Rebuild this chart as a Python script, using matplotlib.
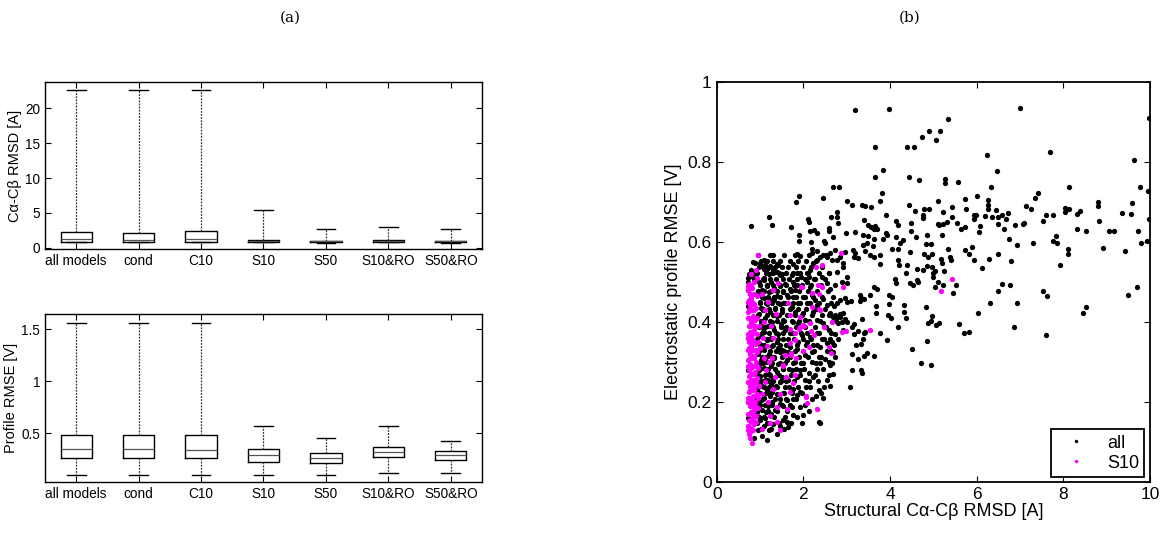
import numpy as np
import matplotlib
matplotlib.use("Agg")
import matplotlib.pyplot as plt
from matplotlib.lines import Line2D

plt.rcParams['font.family'] = ['Liberation Sans', 'DejaVu Sans']

# ---- box plot data (panel a) ----
groups = ['all models', 'cond', 'C10', 'S10', 'S50', 'S10&RO', 'S50&RO']

# Ca-Cb RMSD [A]: whisker low, q1, median, q3, whisker high
rmsd_whislo = [0.75, 0.75, 0.75, 0.75, 0.72, 0.75, 0.72]
rmsd_q1 = [0.85, 0.85, 0.85, 0.85, 0.80, 0.85, 0.80]
rmsd_med = [1.20, 1.15, 1.20, 1.00, 0.90, 1.00, 0.90]
rmsd_q3 = [2.20, 2.15, 2.40, 1.15, 1.00, 1.15, 1.00]
rmsd_whishi = [22.7, 22.7, 22.7, 5.45, 2.65, 3.00, 2.65]

# profile RMSE [V]
rmse_whislo = [0.10, 0.10, 0.10, 0.10, 0.10, 0.115, 0.115]
rmse_q1 = [0.26, 0.26, 0.26, 0.224, 0.208, 0.266, 0.24]
rmse_med = [0.346, 0.346, 0.335, 0.285, 0.26, 0.32, 0.29]
rmse_q3 = [0.48, 0.478, 0.482, 0.346, 0.311, 0.369, 0.327]
rmse_whishi = [1.56, 1.56, 1.56, 0.567, 0.452, 0.567, 0.42]

# ---- scatter data (panel b) ----
# all models, x > 3 A
all_far = [
    (3.18, 0.929), (3.98, 0.931), (5.33, 0.907), (4.90, 0.877), (5.16, 0.877), (4.73, 0.861),
    (5.05, 0.854), (4.39, 0.838), (4.56, 0.838), (3.66, 0.836), (6.23, 0.816), (3.83, 0.779),
    (6.47, 0.777), (3.65, 0.762), (4.43, 0.762), (4.67, 0.755), (5.27, 0.757), (5.27, 0.747),
    (5.56, 0.750), (6.34, 0.737), (3.82, 0.723), (3.12, 0.691), (3.36, 0.692), (3.42, 0.690),
    (3.56, 0.687), (3.76, 0.701), (4.43, 0.691), (4.57, 0.676), (4.78, 0.682), (4.90, 0.682),
    (4.76, 0.666), (4.77, 0.659), (5.11, 0.703), (5.23, 0.675), (5.44, 0.687), (5.74, 0.708),
    (5.76, 0.681), (6.01, 0.714), (6.25, 0.705), (6.26, 0.691), (6.26, 0.681), (5.94, 0.667),
    (5.99, 0.667), (6.20, 0.664), (6.36, 0.662), (6.49, 0.662), (6.45, 0.679), (6.49, 0.644),
    (3.90, 0.667), (3.40, 0.654), (3.50, 0.642), (3.56, 0.637), (3.66, 0.639), (3.70, 0.632),
    (3.62, 0.632), (3.20, 0.625), (3.38, 0.616), (3.48, 0.614), (3.62, 0.607), (3.37, 0.592),
    (3.46, 0.596), (3.60, 0.589), (3.14, 0.579), (3.19, 0.571), (3.16, 0.561), (3.27, 0.560),
    (3.43, 0.576), (3.54, 0.567), (3.63, 0.562), (3.76, 0.567), (3.77, 0.545), (3.83, 0.607),
    (3.91, 0.621), (3.93, 0.617), (4.04, 0.582), (4.13, 0.611), (4.23, 0.596), (4.29, 0.604),
    (4.18, 0.581), (4.18, 0.554), (4.21, 0.541), (4.40, 0.543), (4.37, 0.522), (4.14, 0.651),
    (4.18, 0.641), (4.49, 0.648), (4.49, 0.626), (4.60, 0.613), (4.45, 0.574), (4.86, 0.617),
    (4.84, 0.595), (4.94, 0.594), (4.78, 0.570), (4.96, 0.570), (4.88, 0.561), (4.85, 0.539),
    (4.96, 0.537), (4.62, 0.531), (4.76, 0.529), (4.99, 0.522), (5.03, 0.527), (5.24, 0.527),
    (5.17, 0.556), (5.19, 0.547), (5.39, 0.562), (5.40, 0.554), (5.34, 0.583), (5.20, 0.617),
    (5.10, 0.644), (5.14, 0.643), (5.22, 0.644), (5.31, 0.650), (5.42, 0.661), (5.54, 0.646),
    (5.63, 0.632), (5.72, 0.637), (5.93, 0.656), (6.07, 0.639), (6.05, 0.624), (5.74, 0.579),
    (5.83, 0.569), (5.88, 0.586), (5.93, 0.554), (6.13, 0.535), (6.29, 0.558), (6.50, 0.569),
    (4.11, 0.507), (4.62, 0.504), (4.98, 0.511),
    (4.13, 0.497), (4.46, 0.497), (4.52, 0.491), (4.64, 0.500), (5.10, 0.500), (5.22, 0.493),
    (5.03, 0.486), (5.53, 0.491), (5.45, 0.472), (6.48, 0.476), (6.30, 0.446), (6.04, 0.422),
    (5.59, 0.395), (5.70, 0.373), (5.83, 0.374), (3.63, 0.487), (3.71, 0.481), (3.30, 0.466),
    (3.33, 0.460), (3.40, 0.456), (3.31, 0.451), (3.54, 0.466), (3.10, 0.452), (3.98, 0.466),
    (4.05, 0.462), (3.97, 0.444), (3.68, 0.439), (3.68, 0.422), (4.33, 0.443), (4.33, 0.424),
    (4.37, 0.409), (3.96, 0.416), (4.03, 0.410), (4.18, 0.387), (4.82, 0.436), (4.97, 0.414),
    (4.95, 0.402), (4.87, 0.398), (5.05, 0.391), (5.12, 0.396), (3.35, 0.407), (3.16, 0.395),
    (3.12, 0.387), (3.26, 0.377), (3.40, 0.373), (3.43, 0.375), (3.76, 0.373), (3.17, 0.369),
    (3.93, 0.354), (3.37, 0.356), (3.33, 0.345), (3.22, 0.343), (4.85, 0.351), (4.51, 0.331),
    (4.71, 0.297), (4.95, 0.292), (3.46, 0.322), (3.40, 0.315), (3.64, 0.315), (3.13, 0.319),
    (3.25, 0.307), (3.12, 0.280), (3.34, 0.279), (3.35, 0.271), (3.08, 0.237),
    # x > 6.5
    (7.01, 0.935), (7.69, 0.824), (9.62, 0.804), (9.97, 0.910), (8.12, 0.737), (9.77, 0.737),
    (9.95, 0.727), (7.42, 0.722), (7.34, 0.709), (7.14, 0.689), (7.25, 0.682), (6.72, 0.673),
    (6.58, 0.667), (6.68, 0.656), (6.63, 0.631), (6.89, 0.643), (7.06, 0.644), (7.10, 0.647),
    (6.74, 0.607), (6.92, 0.593), (6.79, 0.552), (7.31, 0.596), (7.52, 0.651), (7.59, 0.668),
    (7.75, 0.666), (8.03, 0.684), (8.03, 0.674), (8.12, 0.681), (8.32, 0.669), (8.39, 0.677),
    (8.32, 0.632), (8.52, 0.626), (8.79, 0.699), (8.79, 0.689), (8.83, 0.651), (8.92, 0.584),
    (9.05, 0.628), (9.17, 0.628), (9.36, 0.672), (9.56, 0.670), (9.59, 0.697), (9.43, 0.576),
    (9.73, 0.628), (9.80, 0.597), (9.93, 0.603), (9.97, 0.658), (7.83, 0.615), (7.77, 0.602),
    (7.85, 0.597), (8.11, 0.581), (8.11, 0.570), (7.93, 0.543),
    (6.58, 0.494), (6.76, 0.491), (6.94, 0.446), (6.85, 0.387), (7.52, 0.477), (7.62, 0.464),
    (7.59, 0.368), (8.46, 0.422), (8.52, 0.437), (9.49, 0.468), (9.70, 0.486),
]

# all models, 1.5 < x < 3 A
all_mid = [
    (1.58, 0.494), (1.75, 0.500), (1.69, 0.483), (1.54, 0.475), (1.81, 0.479), (1.85, 0.491),
    (2.08, 0.500), (2.15, 0.487), (2.54, 0.496), (2.62, 0.483), (2.73, 0.491), (2.88, 0.500),
    (3.00, 0.497), (1.62, 0.466), (1.77, 0.462), (2.04, 0.462), (2.19, 0.466), (2.27, 0.454),
    (2.46, 0.458), (2.69, 0.462), (2.85, 0.454), (1.54, 0.446), (1.73, 0.437), (1.88, 0.446),
    (2.08, 0.446), (2.31, 0.442), (2.54, 0.442), (2.77, 0.446), (1.50, 0.425), (1.81, 0.425),
    (2.00, 0.421), (2.23, 0.425), (2.42, 0.416), (2.62, 0.421), (2.73, 0.416), (2.92, 0.421),
    (3.00, 0.400), (1.54, 0.404), (1.77, 0.400), (1.88, 0.396), (2.04, 0.404), (2.31, 0.404),
    (2.46, 0.396), (2.81, 0.396), (2.69, 0.412), (2.77, 0.412), (2.85, 0.412), (2.88, 0.400),
    (2.96, 0.408), (1.58, 0.379), (1.77, 0.371), (1.96, 0.366), (2.15, 0.362), (2.31, 0.371),
    (2.42, 0.358), (2.62, 0.358), (2.81, 0.358), (1.54, 0.358), (1.69, 0.337), (1.88, 0.350),
    (2.08, 0.350), (2.23, 0.341), (2.38, 0.337), (2.54, 0.346), (1.50, 0.329), (1.65, 0.325),
    (1.85, 0.333), (2.04, 0.316), (2.19, 0.325), (2.35, 0.312), (2.50, 0.308), (2.69, 0.325),
    (2.73, 0.312), (1.62, 0.304), (1.81, 0.300), (2.00, 0.296), (2.19, 0.300), (2.38, 0.296),
    (2.62, 0.291), (1.54, 0.283), (1.73, 0.279), (1.92, 0.279), (2.12, 0.271), (2.31, 0.283),
    (2.54, 0.254), (1.50, 0.262), (1.65, 0.254), (1.85, 0.262), (2.04, 0.254), (2.23, 0.262),
    (1.58, 0.237), (1.77, 0.233), (1.92, 0.225), (2.15, 0.237), (2.35, 0.229), (1.52, 0.221),
    (1.85, 0.217), (1.62, 0.204), (1.77, 0.206), (1.54, 0.189), (1.73, 0.187), (1.92, 0.187),
    (2.00, 0.166), (1.77, 0.166), (1.54, 0.154), (1.62, 0.150), (1.65, 0.137), (1.96, 0.146),
    (2.38, 0.146), (2.28, 0.214), (2.58, 0.379), (2.62, 0.330), (2.58, 0.300), (2.69, 0.270),
    (2.65, 0.350), (2.62, 0.240), (2.45, 0.210), (2.35, 0.150), (2.92, 0.380), (2.85, 0.420),
    (2.70, 0.440), (2.73, 0.370), (2.95, 0.460), (3.00, 0.450),
    # above 0.5 V
    (0.78, 0.639), (1.20, 0.661), (1.28, 0.643), (1.71, 0.637), (1.83, 0.700), (1.90, 0.714),
    (2.68, 0.737), (2.82, 0.737), (2.46, 0.709), (3.01, 0.701), (2.10, 0.656), (2.12, 0.650),
    (2.15, 0.627), (2.25, 0.629), (2.32, 0.622), (2.63, 0.661), (2.77, 0.674), (2.78, 0.661),
    (2.81, 0.647), (2.60, 0.635), (2.58, 0.627), (2.69, 0.612), (2.48, 0.601), (2.50, 0.596),
    (1.91, 0.616), (1.91, 0.601), (2.18, 0.599), (2.98, 0.621), (2.20, 0.581), (2.19, 0.571),
    (2.31, 0.576), (1.86, 0.569), (1.93, 0.564), (1.75, 0.544), (1.31, 0.567), (1.09, 0.554),
    (1.00, 0.546), (0.88, 0.546), (1.12, 0.541), (1.23, 0.540), (1.42, 0.541), (1.17, 0.533),
    (1.08, 0.531), (1.31, 0.521), (1.46, 0.517), (1.38, 0.525), (0.86, 0.519), (0.80, 0.514),
    (0.85, 0.507), (1.73, 0.517), (1.85, 0.521), (1.95, 0.512), (2.08, 0.521), (2.15, 0.529),
    (2.23, 0.547), (2.31, 0.554), (2.38, 0.562), (2.46, 0.567), (2.54, 0.562), (2.62, 0.571),
    (2.67, 0.554), (2.73, 0.579), (2.77, 0.554), (2.85, 0.562), (2.91, 0.547), (2.96, 0.575),
    (2.12, 0.511), (2.27, 0.508), (2.42, 0.512), (2.58, 0.521), (2.77, 0.525), (2.92, 0.537),
    (3.00, 0.512),
]

# all models, dense part x < 1.5 A
all_near = [
    (0.85, 0.110), (1.15, 0.105), (1.05, 0.115), (0.95, 0.130), (1.08, 0.140), (1.20, 0.130),
    (1.30, 0.145), (0.90, 0.150), (1.38, 0.120), (1.47, 0.140), (1.00, 0.155), (1.12, 0.160),
    (1.25, 0.170), (0.93, 0.175), (1.05, 0.180), (1.35, 0.180), (1.18, 0.190), (1.45, 0.195),
    (0.98, 0.195), (1.28, 0.200), (1.02, 0.205), (1.10, 0.210), (1.22, 0.215), (1.40, 0.220),
    (0.96, 0.225), (1.15, 0.230), (1.32, 0.235), (1.05, 0.240), (1.25, 0.245), (1.45, 0.250),
    (0.94, 0.250), (1.12, 0.255), (1.30, 0.260), (1.00, 0.265), (1.20, 0.270), (1.38, 0.275),
    (0.97, 0.280), (1.08, 0.285), (1.26, 0.290), (1.42, 0.295), (1.15, 0.300), (1.02, 0.305),
    (1.33, 0.310), (0.96, 0.320), (1.20, 0.320), (1.45, 0.325), (1.10, 0.330), (1.28, 0.340),
    (1.00, 0.345), (1.38, 0.350), (1.15, 0.355), (1.25, 0.360), (0.98, 0.365), (1.42, 0.370),
    (1.08, 0.375), (1.33, 0.380), (1.18, 0.390), (1.02, 0.395), (1.48, 0.395), (1.28, 0.400),
    (1.12, 0.410), (1.40, 0.415), (0.97, 0.420), (1.22, 0.425), (1.06, 0.430), (1.35, 0.435),
    (1.16, 0.445), (1.46, 0.445), (1.00, 0.450), (1.28, 0.455), (1.10, 0.460), (1.40, 0.465),
    (0.95, 0.470), (1.20, 0.475), (1.05, 0.480), (1.33, 0.485), (1.15, 0.490), (1.45, 0.490),
    (0.98, 0.500), (1.25, 0.500), (0.72, 0.510), (0.78, 0.530), (0.74, 0.520), (1.10, 0.510),
    (1.20, 0.520), (1.30, 0.530), (1.40, 0.545), (1.05, 0.540), (1.50, 0.520), (0.84, 0.550),
    (0.72, 0.440), (0.72, 0.360), (0.73, 0.280), (0.72, 0.200), (0.73, 0.160), (0.72, 0.480),
    (0.72, 0.500), (1.06, 0.385), (1.24, 0.315), (1.36, 0.240), (1.13, 0.175), (1.32, 0.455),
    (1.03, 0.435), (1.18, 0.255), (1.41, 0.335), (0.99, 0.295), (1.27, 0.225), (1.09, 0.505),
]

# extra points of the crowded block, read row by row: (y, [x values])
all_rows = [
    (0.132, [1.02, 1.26, 1.55]),
    (0.147, [0.94, 1.17, 1.44, 1.72]),
    (0.162, [0.98, 1.08, 1.33, 1.58, 1.86]),
    (0.177, [0.92, 1.19, 1.40, 1.63, 2.12]),
    (0.192, [1.01, 1.12, 1.27, 1.51, 1.69, 2.03]),
    (0.207, [0.93, 1.06, 1.34, 1.46, 1.60, 1.83, 2.21]),
    (0.222, [0.99, 1.14, 1.25, 1.55, 1.74, 1.97, 2.40]),
    (0.237, [0.95, 1.09, 1.21, 1.38, 1.67, 1.88, 2.07, 2.47]),
    (0.252, [1.03, 1.16, 1.29, 1.49, 1.59, 1.79, 2.14, 2.33]),
    (0.267, [0.96, 1.11, 1.24, 1.43, 1.72, 1.93, 2.26, 2.58]),
    (0.282, [1.00, 1.19, 1.35, 1.52, 1.66, 1.84, 2.02, 2.45]),
    (0.297, [0.94, 1.07, 1.28, 1.45, 1.57, 1.75, 1.95, 2.28, 2.66]),
    (0.312, [1.04, 1.13, 1.32, 1.50, 1.69, 1.90, 2.11, 2.41]),
    (0.327, [0.97, 1.22, 1.37, 1.55, 1.80, 1.98, 2.25, 2.55]),
    (0.342, [1.01, 1.10, 1.30, 1.46, 1.61, 1.86, 2.05, 2.32, 2.70]),
    (0.357, [0.93, 1.17, 1.26, 1.42, 1.65, 1.78, 1.99, 2.17, 2.48]),
    (0.372, [1.05, 1.20, 1.36, 1.53, 1.70, 1.94, 2.09, 2.36, 2.63]),
    (0.387, [0.98, 1.12, 1.31, 1.48, 1.59, 1.84, 2.03, 2.27, 2.52]),
    (0.402, [1.02, 1.24, 1.39, 1.56, 1.74, 1.91, 2.13, 2.39, 2.76]),
    (0.417, [0.95, 1.15, 1.29, 1.44, 1.63, 1.80, 1.97, 2.20, 2.58]),
    (0.432, [1.07, 1.21, 1.34, 1.51, 1.68, 1.87, 2.07, 2.29, 2.49]),
    (0.447, [0.99, 1.13, 1.27, 1.41, 1.58, 1.76, 1.93, 2.15, 2.37, 2.64]),
    (0.462, [1.04, 1.18, 1.33, 1.47, 1.65, 1.83, 2.00, 2.23, 2.44]),
    (0.477, [0.96, 1.09, 1.25, 1.38, 1.54, 1.71, 1.89, 2.10, 2.31, 2.56]),
    (0.492, [1.01, 1.16, 1.30, 1.45, 1.61, 1.78, 1.96, 2.18, 2.40]),
    (0.507, [0.88, 1.06, 1.22, 1.36, 1.52, 1.67, 1.85, 2.03, 2.25, 2.50]),
    (0.522, [0.93, 1.13, 1.27, 1.43, 1.59, 1.76, 1.92, 2.11, 2.35, 2.60]),
    (0.537, [0.97, 1.20, 1.34, 1.50, 1.64, 1.82, 2.00, 2.18, 2.42]),
    (0.552, [1.03, 1.16, 1.29, 1.47, 1.70, 1.88, 2.06, 2.28]),
    (0.567, [0.95, 1.23, 1.55, 1.80, 2.14, 2.52]),
]

# S10 subset
s10_pts = [
    (0.82, 0.096), (0.74, 0.120), (0.77, 0.125), (0.80, 0.135), (0.73, 0.140), (0.86, 0.145),
    (0.78, 0.150), (0.75, 0.155), (0.83, 0.160), (0.90, 0.165), (0.74, 0.170), (0.79, 0.175),
    (0.86, 0.180), (0.95, 0.185), (0.76, 0.190), (0.82, 0.195), (0.73, 0.200), (0.88, 0.200),
    (0.78, 0.205), (0.75, 0.210), (0.84, 0.215), (0.92, 0.220), (0.74, 0.225), (0.80, 0.230),
    (0.87, 0.235), (0.76, 0.240), (0.83, 0.245), (0.98, 0.240), (0.73, 0.250), (0.79, 0.255),
    (0.86, 0.255), (0.93, 0.260), (0.75, 0.265), (0.82, 0.270), (0.89, 0.275), (0.74, 0.280),
    (0.80, 0.285), (0.85, 0.290), (0.96, 0.285), (0.77, 0.295), (0.91, 0.300), (0.73, 0.305),
    (0.81, 0.310), (0.87, 0.315), (0.76, 0.320), (0.94, 0.325), (0.83, 0.330), (0.74, 0.335),
    (0.79, 0.340), (0.89, 0.345), (0.77, 0.350), (1.00, 0.335), (0.84, 0.355), (0.73, 0.360),
    (0.80, 0.365), (0.92, 0.370), (0.76, 0.375), (0.86, 0.380), (0.74, 0.390), (0.81, 0.395),
    (0.97, 0.390), (0.78, 0.400), (0.88, 0.405), (0.75, 0.410), (0.83, 0.415), (0.73, 0.425),
    (0.79, 0.430), (0.90, 0.435), (0.76, 0.440), (0.85, 0.445), (0.74, 0.455), (0.80, 0.460),
    (0.77, 0.470), (0.93, 0.465), (0.73, 0.480), (0.81, 0.485), (0.75, 0.495), (0.86, 0.500),
    (0.90, 0.530), (0.96, 0.567), (0.92, 0.510), (0.78, 0.520),
    (1.05, 0.470), (1.12, 0.430), (1.19, 0.450), (1.42, 0.498), (1.10, 0.400), (1.25, 0.390),
    (1.06, 0.360), (1.15, 0.340), (1.30, 0.360), (1.08, 0.310), (1.20, 0.300), (1.35, 0.262),
    (1.31, 0.233), (1.12, 0.250), (1.04, 0.220), (1.18, 0.200), (1.40, 0.187), (1.23, 0.164),
    (1.23, 0.146), (1.04, 0.133), (1.54, 0.291), (1.60, 0.262), (1.68, 0.383), (1.71, 0.316),
    (1.81, 0.354), (1.81, 0.266), (1.92, 0.387), (2.00, 0.391), (1.96, 0.487), (2.05, 0.214),
    (2.19, 0.471), (2.31, 0.183), (2.35, 0.433), (2.42, 0.487), (2.58, 0.336), (2.65, 0.400),
    (2.88, 0.375), (2.98, 0.377), (2.91, 0.487), (2.29, 0.537), (2.44, 0.542), (2.86, 0.571),
    (1.64, 0.447), (1.68, 0.417), (1.92, 0.411), (2.15, 0.396), (2.02, 0.390), (2.47, 0.386),
    (1.90, 0.381), (2.18, 0.376), (1.80, 0.371), (2.25, 0.366), (1.69, 0.347), (2.13, 0.337),
    (1.99, 0.327), (1.72, 0.321), (2.63, 0.322), (1.58, 0.316), (1.82, 0.309), (1.54, 0.289),
    (1.77, 0.247), (1.69, 0.225), (2.06, 0.212), (2.08, 0.196), (1.63, 0.182), (1.46, 0.129),
    (2.33, 0.491), (1.94, 0.487), (2.37, 0.469), (2.19, 0.437), (2.39, 0.429), (3.54, 0.380),
    (5.17, 0.477), (5.44, 0.507), (1.30, 0.480), (1.36, 0.420), (1.14, 0.280), (1.28, 0.310),
    (1.45, 0.220), (1.38, 0.150),
]

# S10 band along the left edge, row by row: (y, [x values])
s10_rows = [
    (0.11, [0.76]), (0.13, [0.73, 0.84]), (0.15, [0.80, 0.91]), (0.17, [0.72, 0.83]),
    (0.19, [0.78, 0.88]), (0.21, [0.73, 0.81, 0.95]), (0.23, [0.76, 0.86]),
    (0.25, [0.72, 0.82, 0.90]), (0.27, [0.78, 0.87]), (0.29, [0.73, 0.81, 0.93]),
    (0.31, [0.77, 0.85]), (0.33, [0.72, 0.80, 0.90]), (0.35, [0.75, 0.86, 0.96]),
    (0.37, [0.73, 0.82]), (0.39, [0.77, 0.89]), (0.41, [0.72, 0.80, 0.92]),
    (0.43, [0.75, 0.85]), (0.45, [0.73, 0.81]), (0.47, [0.76, 0.87]), (0.49, [0.72, 0.79]),
]


def expand_rows(rows):
    return [(x, y) for y, xs in rows for x in xs]


all_pts = np.array(all_far + all_mid + all_near + expand_rows(all_rows))
s10_arr = np.array(s10_pts + expand_rows(s10_rows))

fig = plt.figure(figsize=(11.69, 5.33), dpi=100)


def style_axes(ax, size):
    ax.tick_params(direction='in', top=True, right=True, labelsize=size,
                   length=4, width=0.8, colors='black')
    for sp in ax.spines.values():
        sp.set_linewidth(1.0)


def draw_box(ax, whislo, q1, med, q3, whishi):
    stats = []
    for i, name in enumerate(groups):
        stats.append(dict(label=name, whislo=whislo[i], q1=q1[i], med=med[i],
                          q3=q3[i], whishi=whishi[i], fliers=[]))
    ax.bxp(stats, positions=np.arange(1, len(groups) + 1), widths=0.5,
           showfliers=False,
           boxprops=dict(color='black', linewidth=1.0),
           medianprops=dict(color='#555555', linewidth=0.9),
           whiskerprops=dict(color='#333333', linewidth=0.9, linestyle=(0, (1.5, 1.0))),
           capprops=dict(color='black', linewidth=1.0),
           capwidths=0.3)
    ax.set_xlim(0.5, len(groups) + 0.5)
    style_axes(ax, 9.8)


# ---- panel (a) top ----
ax1 = fig.add_axes([0.0385, 0.533, 0.3738, 0.313])
draw_box(ax1, rmsd_whislo, rmsd_q1, rmsd_med, rmsd_q3, rmsd_whishi)
ax1.set_ylim(-0.2, 23.8)
ax1.set_yticks([0, 5, 10, 15, 20])
ax1.set_ylabel('C\u03b1-C\u03b2 RMSD [A]', fontsize=10.5, labelpad=2)

# ---- panel (a) bottom ----
ax2 = fig.add_axes([0.0385, 0.0957, 0.3738, 0.3153])
draw_box(ax2, rmse_whislo, rmse_q1, rmse_med, rmse_q3, rmse_whishi)
ax2.set_ylim(0.03, 1.645)
ax2.set_yticks([0.5, 1.0, 1.5])
ax2.set_yticklabels(['0.5', '1', '1.5'])
ax2.set_ylabel('Profile RMSE [V]', fontsize=10.5, labelpad=2)

# ---- panel (b) ----
ax3 = fig.add_axes([0.6131, 0.0962, 0.3707, 0.7505])
ax3.plot(all_pts[:, 0], all_pts[:, 1], 'o', color='black', ms=3.8, mew=0)
ax3.plot(s10_arr[:, 0], s10_arr[:, 1], 'o', color='#ff00ff', ms=3.8, mew=0)
ax3.set_xlim(0, 10)
ax3.set_ylim(0, 1)
ax3.set_xticks([0, 2, 4, 6, 8, 10])
ax3.set_yticks([0, 0.2, 0.4, 0.6, 0.8, 1.0])
ax3.set_yticklabels(['0', '0.2', '0.4', '0.6', '0.8', '1'])
style_axes(ax3, 12.5)
for sp in ax3.spines.values():
    sp.set_linewidth(1.3)
ax3.set_xlabel('Structural C\u03b1-C\u03b2 RMSD [A]', fontsize=13, labelpad=1)
ax3.set_ylabel('Electrostatic profile RMSE [V]', fontsize=13, labelpad=4)

handles = [Line2D([], [], marker='o', color='black', ls='none', ms=2.5, mew=0),
           Line2D([], [], marker='o', color='#ff00ff', ls='none', ms=2.5, mew=0)]
leg = ax3.legend(handles, ['all', 'S10'], loc='lower right', bbox_to_anchor=(0.987, 0.012),
                 borderaxespad=0, fontsize=13, fancybox=False, framealpha=1,
                 edgecolor='black', handlelength=2.2, handletextpad=0.6,
                 borderpad=0.3, labelspacing=0.15)
leg.get_frame().set_linewidth(1.3)

fig.text(0.248, 0.966, '(a)', ha='center', va='center', fontsize=11, family='DejaVu Serif')
fig.text(0.778, 0.966, '(b)', ha='center', va='center', fontsize=11, family='DejaVu Serif')

fig.savefig('out.png', dpi=100)
